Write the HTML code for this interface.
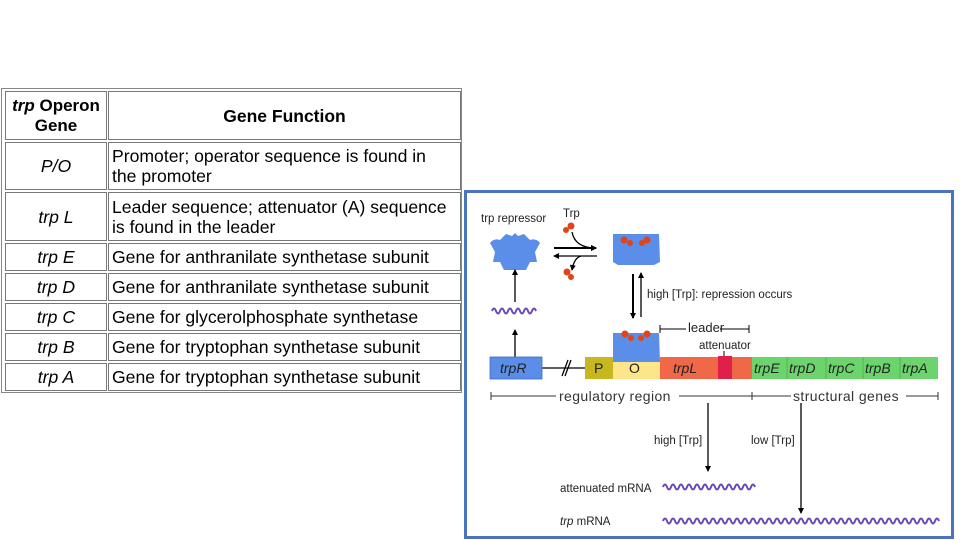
<!DOCTYPE html>
<html><head><meta charset="utf-8"><style>
body{margin:0;width:960px;height:540px;background:#fff;position:relative;overflow:hidden;font-family:"Liberation Sans",Arial,sans-serif}
.tbl{position:absolute;left:1px;top:88px;width:461px;height:305px;border:1px solid #888;box-sizing:border-box}
.c{position:absolute;border:1px solid #777;box-sizing:border-box;font-size:17.6px;color:#000;line-height:20px;white-space:nowrap}
.l{left:3px;width:102px;text-align:center;display:flex;align-items:center;justify-content:center;font-style:italic}
.r{left:106px;width:353px;display:flex;align-items:center;padding-left:3px}
</style></head><body>
<div class="tbl">
<div class="c l" style="top:2px;height:49px;font-style:normal;font-weight:bold;font-size:17px"><span><i>trp</i> Operon<br>Gene</span></div>
<div class="c r" style="top:2px;height:49px;justify-content:center;font-weight:bold;padding:0;font-size:17.5px">Gene Function</div>
<div class="c l" style="top:53px;height:48px">P/O</div>
<div class="c r" style="top:53px;height:48px"><span>Promoter; operator sequence is found in<br>the promoter</span></div>
<div class="c l" style="top:103px;height:49px">trp L</div>
<div class="c r" style="top:103px;height:49px"><span>Leader sequence; attenuator (A) sequence<br>is found in the leader</span></div>
<div class="c l" style="top:154px;height:28px">trp E</div>
<div class="c r" style="top:154px;height:28px">Gene for anthranilate synthetase subunit</div>
<div class="c l" style="top:184px;height:28px">trp D</div>
<div class="c r" style="top:184px;height:28px">Gene for anthranilate synthetase subunit</div>
<div class="c l" style="top:214px;height:28px">trp C</div>
<div class="c r" style="top:214px;height:28px">Gene for glycerolphosphate synthetase</div>
<div class="c l" style="top:244px;height:28px">trp B</div>
<div class="c r" style="top:244px;height:28px">Gene for tryptophan synthetase subunit</div>
<div class="c l" style="top:274px;height:28px">trp A</div>
<div class="c r" style="top:274px;height:28px">Gene for tryptophan synthetase subunit</div>
</div>
<svg width="960" height="540" style="position:absolute;left:0;top:0" font-family="Liberation Sans,Arial,sans-serif">
<defs><marker id="a" markerWidth="6" markerHeight="6" refX="5" refY="3" orient="auto" markerUnits="userSpaceOnUse"><path d="M0,0L6,3L0,6z" fill="#000"/></marker></defs>
<rect x="465.5" y="191.5" width="487" height="346" fill="#fff" stroke="#4a74c0" stroke-width="3"/>
<g font-size="11.5" fill="#222">
<text x="481" y="222">trp repressor</text>
<text x="563" y="217">Trp</text>
<text x="647" y="298">high [Trp]: repression occurs</text>
<text x="688" y="332" font-size="13">leader</text>
<text x="699" y="349">attenuator</text>
<text x="654" y="444">high [Trp]</text>
<text x="751" y="444">low [Trp]</text>
<text x="560" y="492">attenuated mRNA</text>
<text x="560" y="525"><tspan font-style="italic">trp</tspan> mRNA</text>
</g>
<!-- repressor -->
<path d="M490,243 Q494,238 500,240 L506,234 L512,236 L515,233 L518,236 L524,234 L530,240 Q536,238 540,243 L535,252 L537,262 L530,262 L526,270 L504,270 L500,262 L493,262 L495,252z" fill="#5a8ee8"/>
<!-- complex top -->
<path d="M613,234 L659,234 L660,262 L654,265 L618,265 L613,262z" fill="#5a8ee8"/>
<g fill="#e04418"><circle cx="624" cy="240" r="3.5"/><circle cx="630" cy="243" r="3"/><circle cx="647" cy="240" r="3.5"/><circle cx="642" cy="243" r="3"/>
<circle cx="571" cy="226" r="3.5"/><circle cx="566" cy="230" r="3"/><circle cx="567" cy="272" r="3.5"/><circle cx="571" cy="277" r="3"/></g>
<!-- complex on O -->
<path d="M613,333 L659,333 L660,362 L613,362z" fill="#5a8ee8"/>
<g fill="#e04418"><circle cx="625" cy="334" r="3.5"/><circle cx="631" cy="338" r="3"/><circle cx="647" cy="334" r="3.5"/><circle cx="641" cy="338" r="3"/></g>
<g stroke="#000" stroke-width="1.3" fill="none">
<line x1="554" y1="248" x2="596" y2="248" stroke-width="2" marker-end="url(#a)"/>
<line x1="597" y1="256" x2="554" y2="256" marker-end="url(#a)"/>
<path d="M572,232 Q575,248 596,248" marker-end="url(#a)"/>
<path d="M581,256 Q574,258 572,270" marker-end="url(#a)"/>
<line x1="633" y1="274" x2="633" y2="318" stroke-width="2" marker-end="url(#a)"/>
<line x1="641" y1="317" x2="641" y2="273" marker-end="url(#a)"/>
<line x1="515" y1="357" x2="515" y2="330" marker-end="url(#a)"/>
<line x1="515" y1="302" x2="515" y2="270" marker-end="url(#a)"/>
<line x1="708" y1="403" x2="708" y2="471" marker-end="url(#a)"/>
<line x1="801" y1="403" x2="801" y2="513" marker-end="url(#a)"/>
<path d="M660,325 V333 M660,329 H686 M720,329 H749 M749,325 V333" stroke-width="1"/>
<line x1="724" y1="351" x2="724" y2="362" stroke-width="1"/>
<line x1="542" y1="368" x2="585" y2="368"/>
<line x1="562" y1="376" x2="568" y2="360"/><line x1="565" y1="376" x2="571" y2="360"/>
<path d="M491,392 V400 M491,396 H556 M679,396 H752 M752,392 V400 M752,396 H791 M906,396 H938 M938,392 V400" stroke-width="1" stroke="#333"/>
</g>
<rect x="490" y="357" width="52" height="22" fill="#5a8ee8" stroke="#3a6cc0" stroke-width=".8"/>
<rect x="585" y="357" width="28" height="22" fill="#c8b820"/>
<rect x="613" y="362" width="47" height="17" fill="#fde58a"/>
<rect x="660" y="357" width="92" height="22" fill="#f06848"/>
<rect x="718" y="356" width="14" height="23" fill="#e0204a"/>
<rect x="752" y="357" width="186" height="22" fill="#6cd46c"/>
<g stroke="#4ab04a" stroke-width=".8"><line x1="787" y1="357" x2="787" y2="379"/><line x1="826" y1="357" x2="826" y2="379"/><line x1="863" y1="357" x2="863" y2="379"/><line x1="900" y1="357" x2="900" y2="379"/></g>
<g font-size="14" fill="#222" font-style="italic">
<text x="500" y="373">trpR</text>
<text x="594" y="373" font-style="normal">P</text>
<text x="629" y="373" font-style="normal">O</text>
<text x="673" y="373">trpL</text>
<text x="754" y="373">trpE</text>
<text x="789" y="373">trpD</text>
<text x="828" y="373">trpC</text>
<text x="865" y="373">trpB</text>
<text x="902" y="373">trpA</text>
</g>
<g font-size="14" fill="#333" letter-spacing="0.4"><text x="559" y="401">regulatory region</text><text x="793" y="401">structural genes</text></g>
<g fill="none" stroke="#6a48b8" stroke-width="2">
<path d="M492,311 q2,-5 4,0 t4,0 t4,0 t4,0 t4,0 t4,0 t4,0 t4,0 t4,0 t4,0 t4,0"/>
<path d="M663,487 q2,-5 4,0 t4,0 t4,0 t4,0 t4,0 t4,0 t4,0 t4,0 t4,0 t4,0 t4,0 t4,0 t4,0 t4,0 t4,0 t4,0 t4,0 t4,0 t4,0 t4,0 t4,0 t4,0 t4,0"/>
<path d="M663,521 q2,-5 4,0 t4,0 t4,0 t4,0 t4,0 t4,0 t4,0 t4,0 t4,0 t4,0 t4,0 t4,0 t4,0 t4,0 t4,0 t4,0 t4,0 t4,0 t4,0 t4,0 t4,0 t4,0 t4,0 t4,0 t4,0 t4,0 t4,0 t4,0 t4,0 t4,0 t4,0 t4,0 t4,0 t4,0 t4,0 t4,0 t4,0 t4,0 t4,0 t4,0 t4,0 t4,0 t4,0 t4,0 t4,0 t4,0 t4,0 t4,0 t4,0 t4,0 t4,0 t4,0 t4,0 t4,0 t4,0 t4,0 t4,0 t4,0 t4,0 t4,0 t4,0 t4,0 t4,0 t4,0 t4,0 t4,0 t4,0 t4,0 t4,0"/>
</g>
</svg>
</body></html>
